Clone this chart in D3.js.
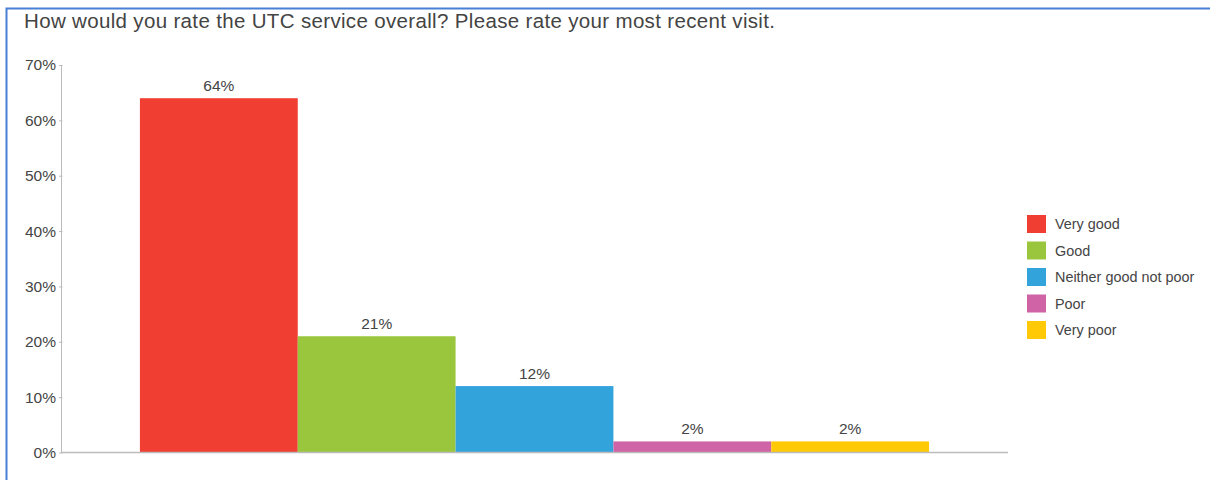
<!DOCTYPE html>
<html>
<head>
<meta charset="utf-8">
<script src="https://cdn.jsdelivr.net/npm/d3@7/dist/d3.min.js"></script>
<style>
  html, body { margin: 0; padding: 0; background: #fff; }
  svg { display: block; font-family: "Liberation Sans", Arial, sans-serif; }
</style>
</head>
<body>
<svg id="chart" width="1210" height="480"></svg>
<script>
const title = "How would you rate the UTC service overall? Please rate your most recent visit.";
const categories = ["Very good", "Good", "Neither good not poor", "Poor", "Very poor"];
const values = [64, 21, 12, 2, 2];
const colors = ["#f03e32", "#9ac63e", "#33a3dc", "#d062a6", "#ffca05"];
const yTicks = [0, 10, 20, 30, 40, 50, 60, 70];

const svg = d3.select("#chart");
const textColor = "#444";

// Frame around the panel
svg.append("path")
  .attr("d", "M6.5,480 V8.5 H1210")
  .attr("fill", "none")
  .attr("stroke", "#4a7fd6")
  .attr("stroke-width", 2);

svg.append("text")
  .attr("x", 24)
  .attr("y", 27.5)
  .attr("font-size", 20.5)
  .attr("textLength", 751)
  .attr("lengthAdjust", "spacing")
  .attr("fill", textColor)
  .text(title);

const x = d3.scaleBand()
  .domain(categories)
  .range([61, 1008])
  .paddingInner(0)
  .paddingOuter(0.5);

const y = d3.scaleLinear()
  .domain([0, 70])
  .range([452.5, 65]);

// Y axis
const yAxis = d3.axisLeft(y)
  .tickValues(yTicks)
  .tickFormat(d => d + "%")
  .tickSize(3)
  .tickPadding(2);

const yG = svg.append("g")
  .attr("transform", "translate(61,0)")
  .call(yAxis);
yG.select(".domain").attr("stroke", "#bbb").attr("d", `M0.5,${y(70)}V${y(0)}`);
yG.selectAll(".tick line").attr("stroke", "#bbb").attr("x1", 1.5).attr("x2", -2);
yG.selectAll(".tick text")
  .attr("font-size", 15.5)
  .attr("font-family", "Liberation Sans, Arial, sans-serif")
  .attr("fill", textColor);

// Bars
svg.append("g").selectAll("rect")
  .data(categories)
  .join("rect")
  .attr("x", d => x(d))
  .attr("width", x.bandwidth())
  .attr("y", (d, i) => y(values[i]))
  .attr("height", (d, i) => y(0) - y(values[i]))
  .attr("fill", (d, i) => colors[i]);

// Baseline
svg.append("line")
  .attr("x1", 61).attr("x2", 1008)
  .attr("y1", y(0)).attr("y2", y(0))
  .attr("stroke", "#bbb")
  .attr("stroke-width", 1.5);

// Value labels
svg.append("g").selectAll("text")
  .data(categories)
  .join("text")
  .attr("x", d => x(d) + x.bandwidth() / 2)
  .attr("y", (d, i) => y(values[i]) - 7)
  .attr("text-anchor", "middle")
  .attr("font-size", 15.5)
  .attr("fill", textColor)
  .text((d, i) => values[i] + "%");

// Legend
const legend = svg.append("g").attr("transform", "translate(1027,215)");
const row = legend.selectAll("g")
  .data(categories)
  .join("g")
  .attr("transform", (d, i) => `translate(0,${i * 26.5})`);
row.append("rect")
  .attr("width", 19)
  .attr("height", 18)
  .attr("fill", (d, i) => colors[i]);
row.append("text")
  .attr("x", 28)
  .attr("y", 14)
  .attr("font-size", 14.4)
  .attr("fill", textColor)
  .text(d => d);
</script>
</body>
</html>
